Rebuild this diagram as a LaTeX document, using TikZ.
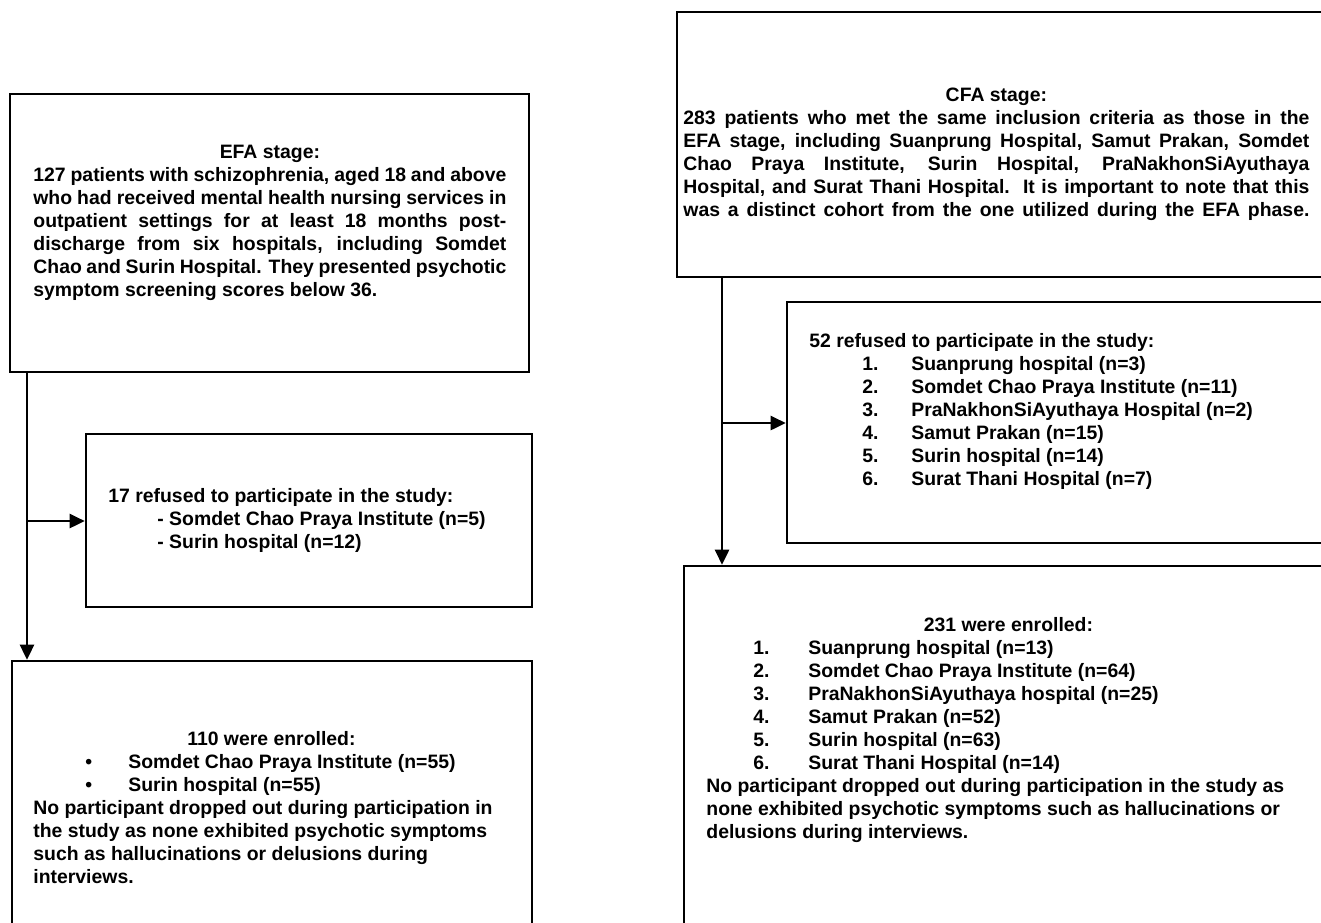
\documentclass[tikz,border=0pt]{standalone}
\usepackage{fontspec}
\setmainfont{Liberation Sans}
\usetikzlibrary{arrows.meta,fit}
\newcommand\jl[1]{{\spaceskip=0pt\xspaceskip=0pt\makebox[\linewidth][s]{#1}}\\}
\newcommand\ctr[1]{\makebox[\linewidth]{#1}\\}
\begin{document}
\begin{tikzpicture}[x=.5pt,y=-.5pt,>={Triangle[length=7.5pt,width=7pt]},
	box/.style={draw,line width=1.3pt,inner sep=0pt},
	txt/.style={anchor=north west,inner sep=0pt,align=flush left,
		font=\bfseries\fontsize{9.7}{11.5}\selectfont},
	flow/.style={->,line width=1.3pt}]
	\useasboundingbox (0,0) rectangle (1321,922);
	\clip (0,0) rectangle (1321,922);
	% EFA side
	\node[box,fit={(10,94) (529,372)}] (efa) {};
	\node[box,fit={(86,434) (532,607)}] (refL) {};
	\node[box,fit={(12,661) (532,960)}] (enrL) {};
	\node[txt,text width=236.5pt] (efatxt) at (33,145) {\ctr{EFA stage:}
		\jl{127 patients with schizophrenia, aged 18 and above}
		\jl{who had received mental health nursing services in}
		\jl{outpatient settings for at least 18 months post-}
		\jl{discharge from six hospitals, including Somdet}
		\jl{Chao and Surin Hospital. They presented psychotic}
		symptom screening scores below 36.};
	\node[txt] (refLtxt) at (108,488) {17 refused to participate in the study:\\
		\hspace*{24.5pt}- Somdet Chao Praya Institute (n=5)\\
		\hspace*{24.5pt}- Surin hospital (n=12)};
	\node[txt,text width=260pt] (enrLtxt) at (33,731) {\makebox[238pt]{110 were enrolled:}\\
		\hspace*{26pt}\makebox[21.5pt][l]{\textbullet}Somdet Chao Praya Institute (n=55)\\
		\hspace*{26pt}\makebox[21.5pt][l]{\textbullet}Surin hospital (n=55)\\
		No participant dropped out during participation in\\
		the study as none exhibited psychotic symptoms\\
		such as hallucinations or delusions during\\
		interviews.};
	\coordinate (jL) at (27,521);
	\draw[flow] (efa.south -| jL) -- (enrL.north -| jL);
	\draw[flow] (jL) -- (jL -| refL.west);
	% CFA side
	\node[box,fit={(677,12) (1340,277)}] (cfa) {};
	\node[box,fit={(787,302) (1340,543)}] (refR) {};
	\node[box,fit={(684,566) (1340,960)}] (enrR) {};
	\node[txt,text width=313pt] (cfatxt) at (683,88) {\ctr{CFA stage:}
		\jl{283 patients who met the same inclusion criteria as those in the}
		\jl{EFA stage, including Suanprung Hospital, Samut Prakan, Somdet}
		\jl{Chao Praya Institute, Surin Hospital, PraNakhonSiAyuthaya}
		\jl{Hospital, and Surat Thani Hospital.\ \ It is important to note that this}
		\jl{was a distinct cohort from the one utilized during the EFA phase.}};
	\node[txt] (refRtxt) at (809,333) {52 refused to participate in the study:\\
		\hspace*{26.5pt}\makebox[24.5pt][l]{1.}Suanprung hospital (n=3)\\
		\hspace*{26.5pt}\makebox[24.5pt][l]{2.}Somdet Chao Praya Institute (n=11)\\
		\hspace*{26.5pt}\makebox[24.5pt][l]{3.}PraNakhonSiAyuthaya Hospital (n=2)\\
		\hspace*{26.5pt}\makebox[24.5pt][l]{4.}Samut Prakan (n=15)\\
		\hspace*{26.5pt}\makebox[24.5pt][l]{5.}Surin hospital (n=14)\\
		\hspace*{26.5pt}\makebox[24.5pt][l]{6.}Surat Thani Hospital (n=7)};
	\node[txt,text width=302pt] (enrRtxt) at (706,617) {\ctr{231 were enrolled:}
		\hspace*{23.5pt}\makebox[27.5pt][l]{1.}Suanprung hospital (n=13)\\
		\hspace*{23.5pt}\makebox[27.5pt][l]{2.}Somdet Chao Praya Institute (n=64)\\
		\hspace*{23.5pt}\makebox[27.5pt][l]{3.}PraNakhonSiAyuthaya hospital (n=25)\\
		\hspace*{23.5pt}\makebox[27.5pt][l]{4.}Samut Prakan (n=52)\\
		\hspace*{23.5pt}\makebox[27.5pt][l]{5.}Surin hospital (n=63)\\
		\hspace*{23.5pt}\makebox[27.5pt][l]{6.}Surat Thani Hospital (n=14)\\
		No participant dropped out during participation in the study as\\
		none exhibited psychotic symptoms such as hallucinations or\\
		delusions during interviews.};
	\coordinate (jR) at (722,423);
	\draw[flow] (cfa.south -| jR) -- (enrR.north -| jR);
	\draw[flow] (jR) -- (jR -| refR.west);
\end{tikzpicture}
\end{document}
